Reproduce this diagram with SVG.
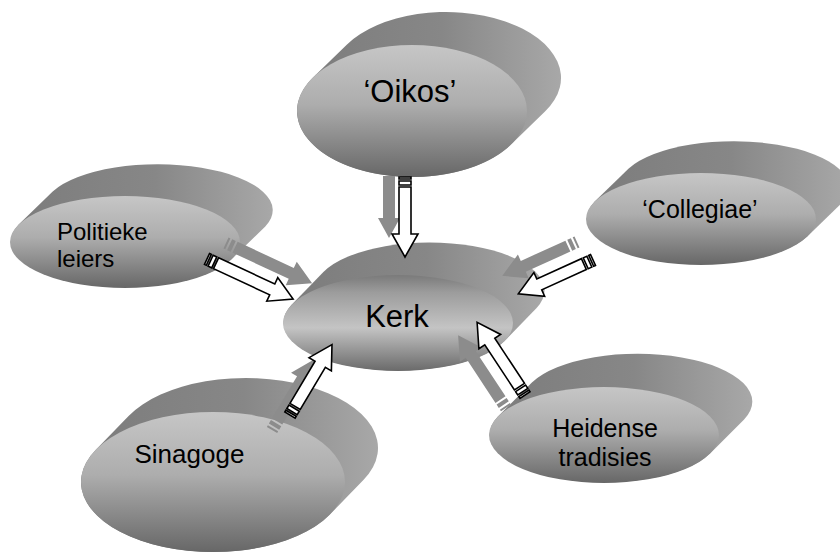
<svg xmlns="http://www.w3.org/2000/svg" xmlns:xlink="http://www.w3.org/1999/xlink" width="840" height="553" viewBox="0 0 840 553">
  <style>
    .side { fill: url(#sideGrad); }
    .face { fill: url(#faceGrad); }
    .face-core { fill: url(#coreGrad); }
    .lbl { font-family: "Liberation Sans", Arial, sans-serif; fill: #000; }
    .wa { fill: #fff; stroke: #000; stroke-width: 1.6; stroke-linejoin: miter; }
    .ga { fill: #8c8c8c; }
  </style>
  <defs>
    <linearGradient id="sideGrad" x1="0" y1="0" x2="1" y2="0">
      <stop offset="0" stop-color="#7c7c7c"/>
      <stop offset="0.55" stop-color="#878787"/>
      <stop offset="1" stop-color="#a8a8a8"/>
    </linearGradient>
    <linearGradient id="faceGrad" x1="0" y1="0" x2="0" y2="1">
      <stop offset="0" stop-color="#c6c6c6"/>
      <stop offset="0.45" stop-color="#adadad"/>
      <stop offset="1" stop-color="#676767"/>
    </linearGradient>
    <linearGradient id="coreGrad" x1="0" y1="0" x2="0" y2="1">
      <stop offset="0" stop-color="#7a7a7a"/>
      <stop offset="0.18" stop-color="#9c9c9c"/>
      <stop offset="0.55" stop-color="#c4c4c4"/>
      <stop offset="1" stop-color="#6a6a6a"/>
    </linearGradient>
    <!-- striped block arrows pointing along +x, tail at origin -->
    <path id="arrow80" d="M0,-6h2v12h-2z M4,-6h4v12h-4z M10,-6H57V-13L80,0L57,13V6H10z"/>
    <path id="arrow82" d="M0,-6h2v12h-2z M4,-6h4v12h-4z M10,-6H59V-13L82,0L59,13V6H10z"/>
    <path id="arrow87" d="M0,-6h2v12h-2z M4,-6h4v12h-4z M10,-6H64V-13L87,0L64,13V6H10z"/>
    <path id="arrow95" d="M0,-6h2v12h-2z M4,-6h4v12h-4z M10,-6H72V-13L95,0L72,13V6H10z"/>
  </defs>

  <rect width="840" height="553" fill="#fff"/>

  <g id="node-oikos">
    <path class="side" d="M313,77.4 L347,44.4 A115,66 0 0 1 545,111.6 L511,144.6 A115,66 0 0 1 313,77.4 Z"/>
    <ellipse class="face" cx="412" cy="111" rx="115" ry="66"/>
    <text class="lbl" x="410" y="102" font-size="31" text-anchor="middle">‘Oikos’</text>
  </g>

  <g id="node-politieke">
    <path class="side" d="M18.7,224.5 L52.7,191.5 A115,46 0 0 1 265.3,226.5 L231.3,259.5 A115,46 0 0 1 18.7,224.5 Z"/>
    <ellipse class="face" cx="125" cy="242" rx="115" ry="46"/>
    <text class="lbl" x="57" y="240" font-size="24">Politieke</text>
    <text class="lbl" x="57" y="267" font-size="24">leiers</text>
  </g>

  <g id="node-collegiae">
    <path class="side" d="M594.7,201.5 L628.7,168.5 A115,46 0 0 1 841.3,203.5 L807.3,236.5 A115,46 0 0 1 594.7,201.5 Z"/>
    <ellipse class="face" cx="701" cy="219" rx="115" ry="46"/>
    <text class="lbl" x="700" y="218" font-size="25" text-anchor="middle">‘Collegiae’</text>
  </g>

  <g id="node-kerk">
    <path class="side" d="M291.4,305 L323.4,272 A115,48 0 0 1 536.6,308 L504.6,341 A115,48 0 0 1 291.4,305 Z"/>
    <ellipse class="face-core" cx="398" cy="323" rx="115" ry="48"/>
    <text class="lbl" x="397" y="327" font-size="31" text-anchor="middle">Kerk</text>
  </g>

  <g id="node-sinagoge">
    <path class="side" d="M95.6,450 L128.6,416 A132,70 0 0 1 363.4,480 L330.4,514 A132,70 0 0 1 95.6,450 Z"/>
    <ellipse class="face" cx="213" cy="482" rx="132" ry="70"/>
    <text class="lbl" x="134.5" y="463" font-size="26">Sinagoge</text>
  </g>

  <g id="node-heidense">
    <path class="side" d="M497.9,416.5 L531.9,382.5 A115,48 0 0 1 744.1,419.5 L710.1,453.5 A115,48 0 0 1 497.9,416.5 Z"/>
    <ellipse class="face" cx="604" cy="435" rx="115" ry="48"/>
    <text class="lbl" x="605" y="437" font-size="25" text-anchor="middle">Heidense</text>
    <text class="lbl" x="605" y="466" font-size="25" text-anchor="middle">tradisies</text>
  </g>

  <g id="connectors">
    <!-- grey shadow arrows -->
    <path class="ga" transform="translate(389,176) rotate(90)" d="M0,-6H42V-11L62,0L42,11V6H0z"/>
    <use xlink:href="#arrow95" class="ga" transform="translate(226,243) rotate(25)"/>
    <use xlink:href="#arrow82" class="ga" transform="translate(577,242) rotate(155.6)"/>
    <use xlink:href="#arrow82" class="ga" transform="translate(272,430) rotate(-59.2)"/>
    <use xlink:href="#arrow87" class="ga" transform="translate(506,408) rotate(-123.4)"/>
    <!-- white outlined arrows -->
    <use xlink:href="#arrow80" class="wa" transform="translate(405,177) rotate(90)"/>
    <use xlink:href="#arrow95" class="wa" transform="translate(207,259) rotate(25)"/>
    <use xlink:href="#arrow82" class="wa" transform="translate(593,260) rotate(155.6)"/>
    <use xlink:href="#arrow82" class="wa" transform="translate(290,415) rotate(-59.2)"/>
    <use xlink:href="#arrow87" class="wa" transform="translate(525,395) rotate(-123.4)"/>
  </g>
</svg>
